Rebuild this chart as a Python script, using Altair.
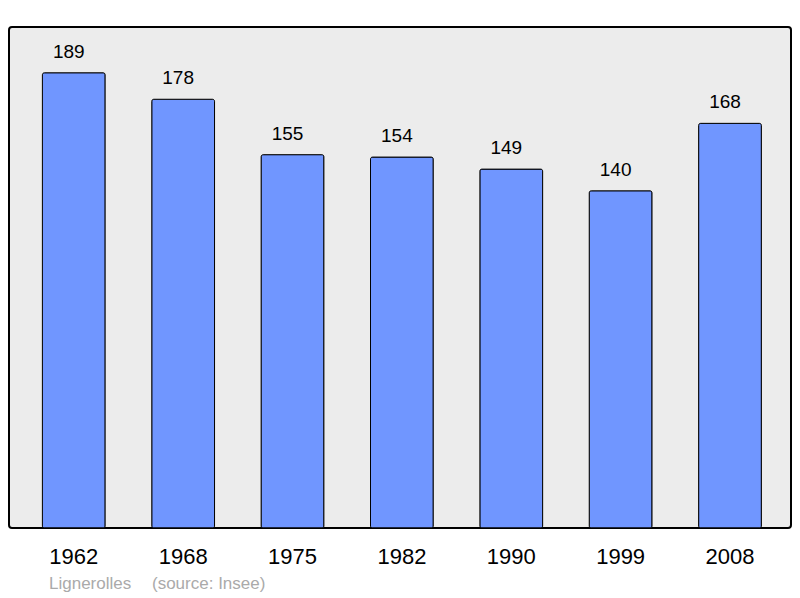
import altair as alt
import pandas as pd

years = ["1962", "1968", "1975", "1982", "1990", "1999", "2008"]
population = [189, 178, 155, 154, 149, 140, 168]
commune = "Lignerolles"
source = "(source: Insee)"

df = pd.DataFrame({"year": years, "pop": population})

FONT = "Liberation Sans"

x = alt.X(
    "year:N",
    sort=years,
    scale=alt.Scale(paddingInner=0.426, paddingOuter=0.288, align=0.53),
    axis=alt.Axis(
        title=None, ticks=False, domain=False, grid=False, labelAngle=0,
        labelFont=FONT, labelFontSize=22, labelColor="black",
        labelBaseline="alphabetic", labelPadding=35,
    ),
)
y = alt.Y("pop:Q", scale=alt.Scale(domain=[0, 208], nice=False, zero=True), axis=None)

bars = alt.Chart(df).mark_bar(
    color="#7096ff", stroke="black", strokeWidth=1, cornerRadius=2
).encode(x=x, y=y)

labels = alt.Chart(df).mark_text(
    font=FONT, fontSize=19, color="black", baseline="alphabetic", dy=-15, dx=-5
).encode(x=x, y=y, text="pop:Q")

cap_df = pd.DataFrame({"a": [commune], "b": [source]})
cap1 = alt.Chart(cap_df).mark_text(
    font=FONT, fontSize=17, color="#aaaaaa", align="left", baseline="alphabetic"
).encode(x=alt.value(40), y=alt.value(562), text="a:N")
cap2 = alt.Chart(cap_df).mark_text(
    font=FONT, fontSize=17, color="#aaaaaa", align="left", baseline="alphabetic"
).encode(x=alt.value(143), y=alt.value(562), text="b:N")

chart = alt.layer(bars, labels, cap1, cap2).properties(
    width=782, height=501,
    autosize=alt.AutoSizeParams(type="none"),
    padding={"left": 1, "top": 19, "right": 1, "bottom": 70},
).configure_view(
    fill="#ececec", stroke="black", strokeWidth=2, cornerRadius=3
)

chart.save("out.html", embed_options={"renderer": "svg", "actions": False})
